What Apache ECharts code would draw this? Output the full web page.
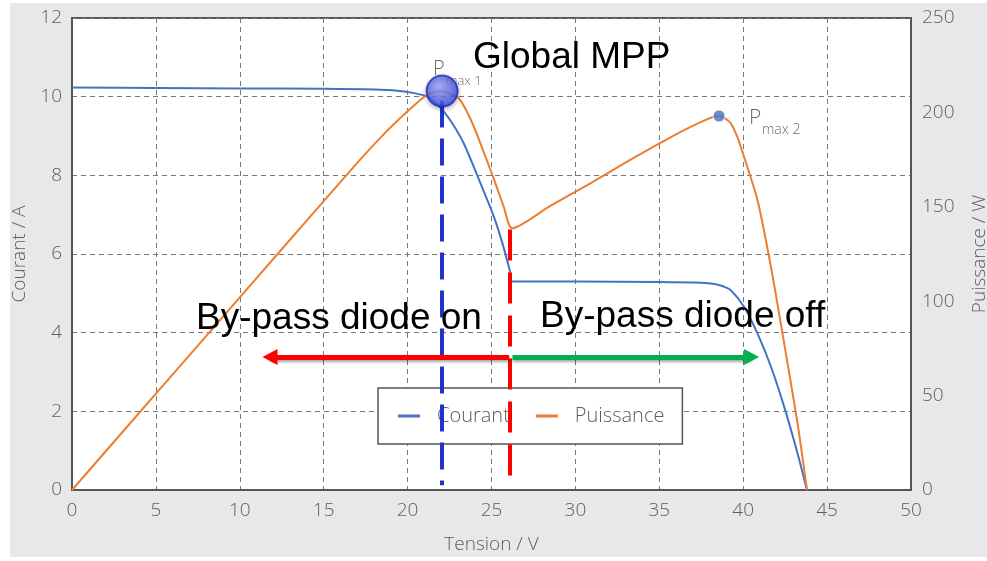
<!DOCTYPE html>
<html><head><meta charset="utf-8">
<script src="https://cdn.jsdelivr.net/npm/echarts@6/dist/echarts.min.js"></script>
<style>
html,body{margin:0;padding:0;background:#fff;}
#bg{position:absolute;left:10px;top:3px;width:977px;height:554px;background:#e7e8ea;}
#c{position:absolute;left:0;top:0;width:987px;height:561px;}
</style>
</head><body><div id="bg"></div><div id="c"></div>
<script>
// Courant (A) vs Tension (V)
const courantV = [0, 5, 10, 15, 18, 19.4, 20.4, 21.2, 21.6, 22.1, 22.7, 23.35, 24.34, 25.14, 25.7, 26.13, 26.25, 30, 35, 37.5, 38.3, 38.8, 39.26, 40.05, 40.85, 41.65, 42.44, 43.24, 43.8];
const courantA = [10.23, 10.22, 10.21, 10.2, 10.18, 10.15, 10.09, 10.0, 9.88, 9.65, 9.3, 8.81, 7.8, 6.95, 6.2, 5.51, 5.30, 5.30, 5.29, 5.27, 5.24, 5.18, 5.08, 4.66, 3.98, 3.14, 2.12, 0.93, 0];
// Puissance (W) vs Tension (V)
const puissanceV = [0, 5, 10, 15, 17, 18.4, 19.5, 20.3, 21, 21.6, 22.1, 22.6, 23.05, 23.5, 23.95, 24.45, 24.94, 25.35, 25.73, 26.23, 28.5, 31, 33.5, 36.3, 37.5, 38.2, 38.56, 38.9, 39.26, 39.65, 40.05, 40.85, 41.65, 42.44, 43.24, 43.8];
const puissanceW = [0, 51, 102, 153, 173.3, 186.8, 196.5, 203, 208.3, 211, 211.3, 209.5, 207.5, 201, 192.4, 181, 169.5, 159.5, 150, 138.6, 150.5, 163, 176, 189.8, 195, 197.6, 198.1, 197, 194.2, 187, 176.5, 153.6, 118.3, 77.7, 35.3, 0];
// Maximum power points
const mppV = [22.06, 38.56];
const mppW = [211.3, 198.1];
// Annotation positions (data units)
const globalMppV = 22.06;
const bypassV = 26.1;
const arrowA = 3.38;
const arrowLeftEndV = 11.8;
const arrowRightEndV = 40.5;

const courantData = courantV.map((v, i) => [v, courantA[i]]);
const puissanceData = puissanceV.map((v, i) => [v, puissanceW[i]]);
const mppData = mppV.map((v, i) => [v, mppW[i]]);

const labelFont = "'Open Sans', 'DejaVu Sans', sans-serif";
const gray = '#5e5e5e';
const bigFont = "37px 'Liberation Sans', Arial, sans-serif";

const chart = echarts.init(document.getElementById('c'), null, {renderer: 'canvas'});
chart.setOption({
  animation: false,
  backgroundColor: 'transparent',
  grid: {left: 72, right: 76, top: 18, bottom: 71, show: true, backgroundColor: '#fff', borderColor: '#555', borderWidth: 2, containLabel: false, outerBoundsMode: 'none'},
  legend: {
    data: ['Courant', 'Puissance'],
    left: 378, top: 388,
    backgroundColor: '#fff', borderColor: '#555', borderWidth: 1.5,
    padding: [18, 18, 18, 20],
    icon: 'rect', itemWidth: 22, itemHeight: 3, itemGap: 26,
    textStyle: {fontSize: 20, color: gray, fontFamily: labelFont, fontWeight: 300, padding: [0, 0, 0, 12]}
  },
  xAxis: {
    type: 'value', min: 0, max: 50, interval: 5,
    name: 'Tension / V', nameLocation: 'middle', nameGap: 45,
    nameTextStyle: {fontSize: 19, color: gray, fontFamily: labelFont, fontWeight: 300},
    axisLine: {show: true, lineStyle: {color: '#555', width: 2}},
    axisTick: {show: false},
    axisLabel: {fontSize: 19, color: gray, fontFamily: labelFont, fontWeight: 300, margin: 11},
    splitLine: {show: true, lineStyle: {color: '#777', type: [5, 4], width: 1}}
  },
  yAxis: [{
    type: 'value', min: 0, max: 12, interval: 2, position: 'left',
    name: 'Courant / A', nameLocation: 'middle', nameGap: 39, nameRotate: 90,
    nameTextStyle: {fontSize: 19, color: gray, fontFamily: labelFont, fontWeight: 300},
    axisLine: {show: true, lineStyle: {color: '#555', width: 2}},
    axisTick: {show: false},
    axisLabel: {fontSize: 19, color: gray, fontFamily: labelFont, fontWeight: 300, margin: 10},
    splitLine: {show: true, lineStyle: {color: '#777', type: [5, 4], width: 1}}
  }, {
    type: 'value', min: 0, max: 250, interval: 50, position: 'right',
    name: 'Puissance / W', nameLocation: 'middle', nameGap: 59, nameRotate: 90,
    nameTextStyle: {fontSize: 19, color: gray, fontFamily: labelFont, fontWeight: 300},
    axisLine: {show: true, lineStyle: {color: '#555', width: 2}},
    axisTick: {show: false},
    axisLabel: {fontSize: 19, color: gray, fontFamily: labelFont, fontWeight: 300, margin: 11},
    splitLine: {show: false}
  }],
  series: [{
    name: 'Courant', type: 'line', yAxisIndex: 0, data: courantData,
    showSymbol: false, smooth: 0.3, color: '#4472c4', lineStyle: {width: 2, color: '#4472c4'}, z: 3
  }, {
    name: 'Puissance', type: 'line', yAxisIndex: 1, data: puissanceData,
    showSymbol: false, smooth: 0.25, color: '#ed7d31', lineStyle: {width: 2, color: '#ed7d31'}, z: 3
  }, {
    name: 'annot', type: 'line', yAxisIndex: 0, data: [], z: 10, silent: true,
    markLine: {
      silent: true, animation: false, label: {show: false},
      data: [
        [{coord: [globalMppV, 9.9], symbol: 'none', lineStyle: {color: '#2233cc', width: 4, type: [27, 11]}},
         {coord: [globalMppV, 0.12], symbol: 'none'}],
        [{coord: [bypassV, 6.62], symbol: 'none', lineStyle: {color: '#ff0000', width: 4, type: [31, 12]}},
         {coord: [bypassV, 0.25], symbol: 'none'}],
        [{coord: [bypassV - 0.05, arrowA], symbol: 'none', lineStyle: {color: '#ff0000', width: 5, type: 'solid', shadowBlur: 3, shadowColor: 'rgba(0,0,0,0.35)', shadowOffsetY: 2}},
         {coord: [arrowLeftEndV, arrowA], symbol: 'triangle', symbolSize: [16, 15]}],
        [{coord: [bypassV + 0.15, arrowA], symbol: 'none', lineStyle: {color: '#00b050', width: 5, type: 'solid', shadowBlur: 3, shadowColor: 'rgba(0,0,0,0.35)', shadowOffsetY: 2}},
         {coord: [arrowRightEndV, arrowA], symbol: 'triangle', symbolSize: [16, 15]}]
      ]
    }
  }, {
    name: 'MPP', type: 'scatter', yAxisIndex: 1, z: 12, silent: true,
    data: [
      {value: mppData[0], symbolSize: 31, itemStyle: {
        color: {type: 'radial', x: 0.4, y: 0.35, r: 0.75, colorStops: [{offset: 0, color: '#9aa4ff'}, {offset: 1, color: '#2f40dc'}]},
        borderColor: '#1d2dbf', borderWidth: 2, shadowBlur: 4, shadowColor: 'rgba(0,0,0,0.3)', shadowOffsetY: 2}},
      {value: mppData[1], symbolSize: 12, itemStyle: {color: '#4472c4', borderColor: '#fff', borderWidth: 1}}
    ]
  }],
  graphic: [
    {type: 'text', x: 473, y: 58, z: 20, style: {text: 'Global MPP', font: bigFont, fill: '#000', verticalAlign: 'middle', align: 'left'}},
    {type: 'text', x: 196, y: 319, z: 20, style: {text: 'By-pass diode on', font: bigFont, fill: '#000', verticalAlign: 'middle', align: 'left'}},
    {type: 'text', x: 540, y: 317, z: 20, style: {text: 'By-pass diode off', font: bigFont, fill: '#000', verticalAlign: 'middle', align: 'left'}},
    {type: 'text', x: 433, y: 69, z: 11, style: {text: 'P', font: "300 20px 'Open Sans', sans-serif", fill: '#6a6a6a', verticalAlign: 'middle', align: 'left'}},
    {type: 'text', x: 446, y: 81, z: 11, style: {text: 'max 1', font: "300 13px 'Open Sans', sans-serif", fill: '#6a6a6a', verticalAlign: 'middle', align: 'left'}},
    {type: 'text', x: 749, y: 118, z: 11, style: {text: 'P', font: "300 21px 'Open Sans', sans-serif", fill: '#6a6a6a', verticalAlign: 'middle', align: 'left'}},
    {type: 'text', x: 762, y: 130, z: 11, style: {text: 'max 2', font: "300 14px 'Open Sans', sans-serif", fill: '#6a6a6a', verticalAlign: 'middle', align: 'left'}}
  ]
});
</script>
</body></html>
